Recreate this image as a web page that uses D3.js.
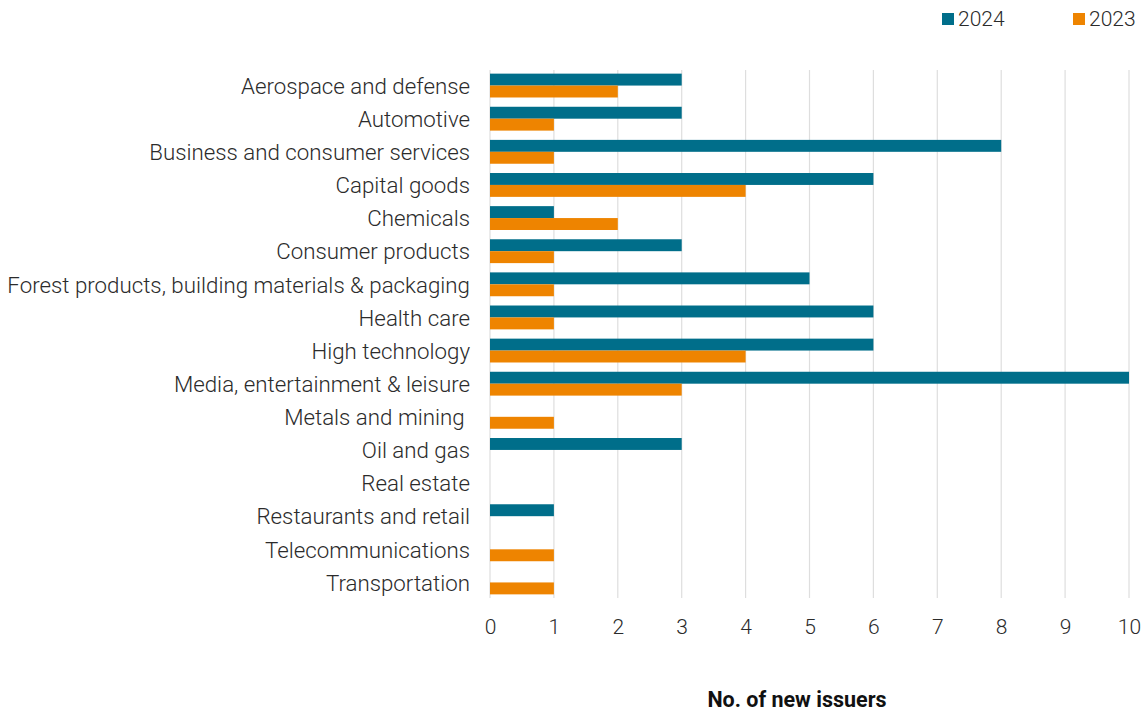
<!DOCTYPE html>
<html>
<head>
<meta charset="utf-8">
<script src="https://cdn.jsdelivr.net/npm/d3@7"></script>
<style>
  html, body { margin: 0; padding: 0; background: #fff; }
  svg { display: block; }
  text { font-family: Roboto, "Noto Sans", sans-serif; }
</style>
</head>
<body>
<svg id="chart" width="1142" height="711"></svg>
<script>
// Sectors, top to bottom
const categories = [
  "Aerospace and defense",
  "Automotive",
  "Business and consumer services",
  "Capital goods",
  "Chemicals",
  "Consumer products",
  "Forest products, building materials & packaging",
  "Health care",
  "High technology",
  "Media, entertainment & leisure",
  "Metals and mining ",
  "Oil and gas",
  "Real estate",
  "Restaurants and retail",
  "Telecommunications",
  "Transportation"
];

// New issuers per sector
const values2024 = [3, 3, 8, 6, 1, 3, 5, 6, 6, 10, 0, 3, 0, 1, 0, 0];
const values2023 = [2, 1, 1, 4, 2, 1, 1, 1, 4, 3, 1, 0, 0, 0, 1, 1];

const seriesNames = ["2024", "2023"];
const seriesColors = ["#006e8a", "#ee8400"];
const xTicks = [0, 1, 2, 3, 4, 5, 6, 7, 8, 9, 10];
const axisTitle = "No. of new issuers";

const svg = d3.select("#chart");
const plotLeft = 490, plotRight = 1129, plotTop = 69, plotBottom = 599;
const fontFamily = "Roboto, 'Noto Sans', sans-serif";
const labelSize = 22.3;

const x = d3.scaleLinear().domain([0, 10]).range([plotLeft, plotRight]);
const y = d3.scaleBand().domain(categories).range([plotTop, plotBottom])
  .paddingInner(0.28).paddingOuter(0.14);
const sub = d3.scaleBand().domain(seriesNames).range([0, y.bandwidth()]);

// vertical gridlines
svg.append("g")
  .selectAll("line")
  .data(xTicks)
  .join("line")
  .attr("x1", d => x(d)).attr("x2", d => x(d))
  .attr("y1", plotTop + 1).attr("y2", plotBottom - 1)
  .attr("stroke", "#dedede")
  .attr("stroke-width", 1.2);

// bars
const series = [values2024, values2023];
series.forEach((vals, si) => {
  svg.append("g")
    .selectAll("rect")
    .data(vals.map((v, i) => ({ cat: categories[i], v })))
    .join("rect")
    .attr("x", x(0))
    .attr("y", d => y(d.cat) + sub(seriesNames[si]))
    .attr("width", d => x(d.v) - x(0))
    .attr("height", sub.bandwidth())
    .attr("fill", seriesColors[si]);
});

// category labels
svg.append("g")
  .selectAll("text")
  .data(categories)
  .join("text")
  .attr("x", plotLeft - 20)
  .attr("y", d => y(d) + y.bandwidth() / 2 + 0.5)
  .attr("dy", "0.35em")
  .attr("text-anchor", "end")
  .style("white-space", "pre")
  .attr("font-size", labelSize)
  .attr("font-weight", 300)
  .attr("fill", "#2b2b2b")
  .text(d => d);

// x axis tick labels
const xAxis = d3.axisBottom(x).tickValues(xTicks).tickSize(0).tickPadding(0);
const gx = svg.append("g").attr("transform", `translate(0, 619)`).call(xAxis);
gx.select(".domain").remove();
gx.selectAll("text")
  .attr("font-size", 21)
  .attr("font-weight", 300)
  .attr("fill", "#2b2b2b")
  .style("font-family", fontFamily);

// axis title
svg.append("text")
  .attr("x", 797)
  .attr("y", 707)
  .attr("text-anchor", "middle")
  .attr("font-size", 21.5)
  .attr("font-weight", 700)
  .attr("fill", "#111")
  .text(axisTitle);

// legend
const legendX = [942, 1073];
const legend = svg.append("g");
seriesNames.forEach((name, i) => {
  legend.append("rect")
    .attr("x", legendX[i]).attr("y", 13)
    .attr("width", 12).attr("height", 12)
    .attr("fill", seriesColors[i]);
  legend.append("text")
    .attr("x", legendX[i] + 16).attr("y", 19)
    .attr("dy", "0.35em")
    .attr("font-size", 21)
    .attr("font-weight", 300)
    .attr("fill", "#2b2b2b")
    .text(name);
});
</script>
</body>
</html>
